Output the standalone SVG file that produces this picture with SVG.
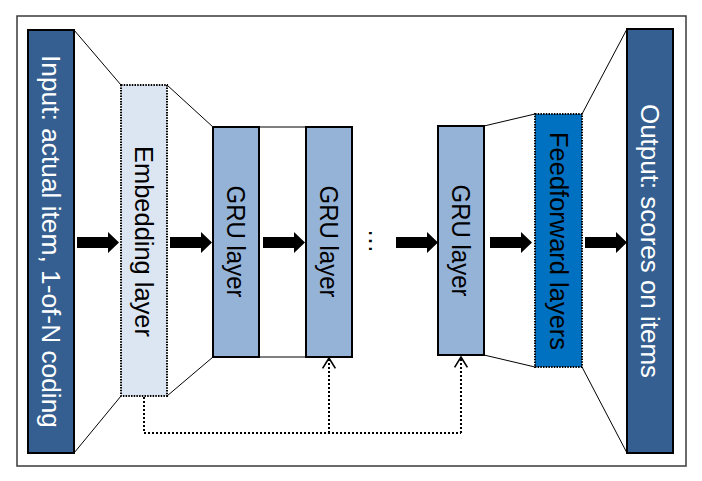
<svg xmlns="http://www.w3.org/2000/svg" width="702" height="481" viewBox="0 0 702 481">
  <style>
    .frame { fill: #ffffff; stroke: #3a3a3a; stroke-width: 1.5; }
    .io { fill: #355F91; stroke: #000000; stroke-width: 2; }
    .emb { fill: #DCE6F2; stroke: #000000; stroke-width: 2; stroke-dasharray: 1.5 1.2; }
    .gru { fill: #95B3D7; stroke: #000000; stroke-width: 2; }
    .ff { fill: #0070C0; stroke: #000000; stroke-width: 2; stroke-dasharray: 1.5 1.2; }
    .lbl { font-family: "Liberation Sans", Arial, sans-serif; font-size: 25px; text-anchor: middle; dominant-baseline: central; fill: #000000; }
    .lbl.white { fill: #ffffff; }
    .edge { fill: none; stroke: #000000; stroke-width: 1; }
    .feedback { fill: none; stroke: #000000; stroke-width: 2; stroke-dasharray: 2 2; }
    .flow { fill: #000000; }
  </style>
  <defs>
    <path id="block-arrow" d="M0,-5.5 H31 V-10.5 L42,0 L31,10.5 V5.5 H0 Z"/>
    <marker id="chevron" viewBox="0 0 20 20" refX="16" refY="10" markerWidth="16" markerHeight="20" markerUnits="userSpaceOnUse" orient="auto">
      <polyline points="3,2 16,10 3,18" fill="none" stroke="#000000" stroke-width="2"/>
    </marker>
  </defs>

  <!-- outer frame -->
  <rect class="frame" x="17" y="16" width="669" height="450"/>

  <!-- funnel outlines between layers and the recurrent feedback path -->
  <g id="connectors">
    <line class="edge" x1="74" y1="30" x2="121" y2="85"/>
    <line class="edge" x1="74" y1="453" x2="121" y2="396"/>
    <line class="edge" x1="167" y1="85" x2="213" y2="127"/>
    <line class="edge" x1="167" y1="396" x2="213" y2="357"/>
    <line class="edge" x1="259" y1="127" x2="306" y2="127" stroke="#666666"/>
    <line class="edge" x1="259" y1="357" x2="306" y2="357"/>
    <line class="edge" x1="484" y1="126" x2="535" y2="114"/>
    <line class="edge" x1="484" y1="355" x2="535" y2="367"/>
    <line class="edge" x1="582" y1="114" x2="627" y2="29"/>
    <line class="edge" x1="582" y1="367" x2="627" y2="453"/>

    <!-- forward flow arrows -->
    <use class="flow" href="#block-arrow" transform="translate(77,242.5)"/>
    <use class="flow" href="#block-arrow" transform="translate(170,242.5)"/>
    <use class="flow" href="#block-arrow" transform="translate(263,242.5)"/>
    <use class="flow" href="#block-arrow" transform="translate(396,242.5)"/>
    <use class="flow" href="#block-arrow" transform="translate(490,242.5)"/>
    <use class="flow" href="#block-arrow" transform="translate(585,242.5)"/>

    <!-- embedding output fed to every GRU layer -->
    <polyline class="feedback" points="144,397 144,433 461,433"/>
    <line class="feedback" x1="329" y1="433" x2="329" y2="358" marker-end="url(#chevron)"/>
    <line class="feedback" x1="461" y1="433" x2="461" y2="357" marker-end="url(#chevron)"/>
  </g>

  <g id="input">
    <rect class="io" x="28" y="30" width="46" height="423"/>
    <text class="lbl white" transform="translate(51,241.5) rotate(90)" textLength="373" lengthAdjust="spacingAndGlyphs">Input: actual item, 1-of-N coding</text>
  </g>

  <g id="embedding">
    <rect class="emb" x="121" y="85" width="46" height="311"/>
    <text class="lbl" transform="translate(144,241.5) rotate(90)" textLength="191" lengthAdjust="spacingAndGlyphs">Embedding layer</text>
  </g>

  <g id="gru1">
    <rect class="gru" x="213" y="127" width="46" height="230"/>
    <text class="lbl" transform="translate(236,241.5) rotate(90)" textLength="112" lengthAdjust="spacingAndGlyphs">GRU layer</text>
  </g>

  <g id="gru2">
    <rect class="gru" x="306" y="127" width="46" height="230"/>
    <text class="lbl" transform="translate(329,241.5) rotate(90)" textLength="112" lengthAdjust="spacingAndGlyphs">GRU layer</text>
  </g>

  <g id="ellipsis">
    <text class="lbl" transform="translate(378,241) rotate(90)">…</text>
  </g>

  <g id="gru3">
    <rect class="gru" x="438" y="126" width="46" height="229"/>
    <text class="lbl" transform="translate(461,240.5) rotate(90)" textLength="112" lengthAdjust="spacingAndGlyphs">GRU layer</text>
  </g>

  <g id="feedforward">
    <rect class="ff" x="535" y="114" width="47" height="253"/>
    <text class="lbl" transform="translate(558.5,241) rotate(90)" textLength="218" lengthAdjust="spacingAndGlyphs">Feedforward layers</text>
  </g>

  <g id="output">
    <rect class="io" x="627" y="29" width="46" height="424"/>
    <text class="lbl white" transform="translate(650,241) rotate(90)" textLength="274" lengthAdjust="spacingAndGlyphs">Output: scores on items</text>
  </g>
</svg>
